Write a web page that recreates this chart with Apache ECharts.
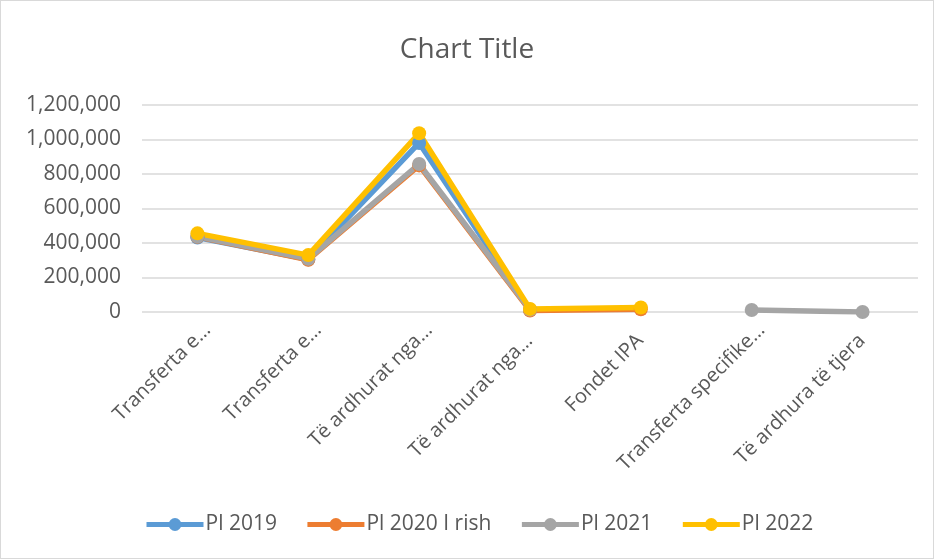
<!DOCTYPE html>
<html>
<head>
<meta charset="utf-8">
<script src="https://cdn.jsdelivr.net/npm/echarts@6/dist/echarts.min.js"></script>
<style>
html,body{margin:0;padding:0;background:#fff;}
#wrap{position:relative;width:934px;height:559px;}
#c{width:934px;height:559px;}
#frame{position:absolute;left:0;top:0;width:934px;height:559px;box-sizing:border-box;border:1px solid #d9d9d9;pointer-events:none;}
</style>
</head>
<body>
<div id="wrap"><div id="c"></div><div id="frame"></div></div>
<script>
const categories = ["Transferta e…","Transferta e…","Të ardhurat nga…","Të ardhurat nga…","Fondet IPA","Transferta specifike…","Të ardhura të tjera"];
const seriesNames = ["Pl 2019","Pl 2020 I rish","Pl 2021","Pl 2022"];
const pl2019 = [432000, 305000, 980000, 12000, null, null, null];
const pl2020 = [436000, 303000, 850000, 8000, 16000, null, null];
const pl2021 = [438000, 308000, 858000, 14000, null, 12000, 0];
const pl2022 = [456000, 330000, 1036000, 18000, 26000, null, null];
const yTicks = {min: 0, max: 1200000, interval: 200000};

const colors = ["#5B9BD5","#ED7D31","#A5A5A5","#FFC000"];
const dataSets = [pl2019, pl2020, pl2021, pl2022];
const font = "'Open Sans', sans-serif";
const txt = '#595959';
// labels whose end sits closer to the tick in the reference
const tightLabels = [3, 4, 6];

const chart = echarts.init(document.getElementById('c'), null, {renderer:'canvas'});
chart.setOption({
  animation:false,
  title:{text:"Chart Title", left:'center', top:31, textStyle:{fontFamily:font, fontSize:28, fontWeight:'normal', color:txt}},
  color: colors,
  grid:[
    {left:142, right:16, top:105, bottom:247},
    {left:152, right:6, top:105, bottom:247}
  ],
  legend:{
    top:509, left:139, itemWidth:57, itemHeight:16, itemGap:28,
    lineStyle:{width:5},
    textStyle:{fontFamily:font, fontSize:21, color:txt, padding:[0,0,0,-3]},
    data: seriesNames
  },
  xAxis:[{
    type:'category', data:categories, boundaryGap:true, gridIndex:0,
    axisLine:{show:false}, axisTick:{show:false}, axisLabel:{show:false}
  },{
    type:'category', data:categories, boundaryGap:true, gridIndex:1,
    axisLine:{show:false}, axisTick:{show:false}, splitLine:{show:false},
    axisLabel:{rotate:45, interval:0, margin:15, fontFamily:font, fontSize:20, color:txt,
      formatter:(v,i)=> tightLabels.includes(i) ? '{t|'+v+'}' : v,
      rich:{t:{fontFamily:font, fontSize:20, color:txt, padding:[0,15,0,0]}}
    }
  }],
  yAxis:[{
    type:'value', min:yTicks.min, max:yTicks.max, interval:yTicks.interval, gridIndex:0,
    axisLine:{show:false}, axisTick:{show:false},
    splitLine:{lineStyle:{color:'#d9d9d9', width:1.5}},
    axisLabel:{margin:21, fontFamily:font, fontSize:21, color:txt,
      formatter:v=>v.toLocaleString('en-US')}
  },{
    type:'value', min:yTicks.min, max:yTicks.max, interval:yTicks.interval, gridIndex:1, show:false,
    splitLine:{show:false}
  }],
  series: dataSets.map((d,i)=>({
    name: seriesNames[i], type:'line', data:d, connectNulls:false,
    xAxisIndex:0, yAxisIndex:0,
    symbol:'circle', symbolSize:14,
    lineStyle:{width:5.5, color:colors[i]},
    itemStyle:{color:colors[i]}
  }))
});
</script>
</body>
</html>
